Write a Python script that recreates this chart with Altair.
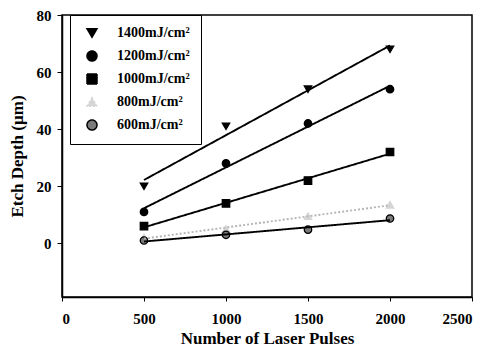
import altair as alt
import pandas as pd

pulses = [500, 1000, 1500, 2000]
fluences = ["1400mJ/cm²", "1200mJ/cm²", "1000mJ/cm²", "800mJ/cm²", "600mJ/cm²"]
depth_1400 = [20, 41, 54, 68]
depth_1200 = [11, 28, 42, 54]
depth_1000 = [6, 14, 22, 32]
depth_800 = [2, 5, 9.5, 13.5]
depth_600 = [1, 3, 4.8, 8.7]
x_ticks = [0, 500, 1000, 1500, 2000, 2500]
y_ticks = [0, 20, 40, 60, 80]

series = [depth_1400, depth_1200, depth_1000, depth_800, depth_600]
rows = []
for name, vals in zip(fluences, series):
    for p, d in zip(pulses, vals):
        rows.append({"fluence": name, "pulses": p, "depth": d})
df = pd.DataFrame(rows)

shapes = ["triangle-down", "circle", "square", "triangle-up", "circle"]
fills = ["#000000", "#000000", "#000000", "#d5d5d5", "#7a7a7a"]
strokes = ["#000000", "#000000", "#000000", "#d5d5d5", "#000000"]
line_colors = ["#000000", "#000000", "#000000", "#b5b5b5", "#000000"]
dashes = [[1, 0], [1, 0], [1, 0], [2, 2], [1, 0]]

FONT = "'Liberation Serif', 'Times New Roman', serif"

xs = alt.X("pulses:Q", scale=alt.Scale(domain=[0, 2500], nice=False),
           axis=alt.Axis(values=x_ticks, format="d", title="Number of Laser Pulses", grid=False,
                         labelFont=FONT, labelFontWeight="bold", labelFontSize=15,
                         titleFont=FONT, titleFontWeight="bold", titleFontSize=17,
                         tickSize=4, labelPadding=10, titlePadding=4,
                         domainColor="black", tickColor="black", labelColor="black",
                         titleColor="black", domainWidth=1.5))
ys = alt.Y("depth:Q", scale=alt.Scale(domain=[-18.8, 80], nice=False, zero=False),
           axis=alt.Axis(values=y_ticks, title="Etch Depth (µm)", grid=False,
                         labelFont=FONT, labelFontWeight="bold", labelFontSize=15,
                         titleFont=FONT, titleFontWeight="bold", titleFontSize=17,
                         tickSize=5, labelPadding=6, titlePadding=10,
                         domainColor="black", tickColor="black", labelColor="black",
                         titleColor="black", domainWidth=1.5))

base = alt.Chart(df)

lines = base.transform_regression(
    "pulses", "depth", groupby=["fluence"], extent=[500, 2000]
).mark_line(strokeWidth=1.9).encode(
    x=xs, y=ys,
    color=alt.Color("fluence:N", scale=alt.Scale(domain=fluences, range=line_colors), legend=None),
    strokeDash=alt.StrokeDash("fluence:N", scale=alt.Scale(domain=fluences, range=dashes), legend=None),
)

points = base.mark_point(size=55, filled=True, strokeWidth=1.3, opacity=1).encode(
    x=xs, y=ys,
    shape=alt.Shape("fluence:N", scale=alt.Scale(domain=fluences, range=shapes),
                    legend=alt.Legend(title=None, orient="none", legendX=8, legendY=0)),
    fill=alt.Fill("fluence:N", scale=alt.Scale(domain=fluences, range=fills)),
    stroke=alt.Stroke("fluence:N", scale=alt.Scale(domain=fluences, range=strokes)),
)

chart = alt.layer(points, lines).properties(
    width=410, height=282,
    padding={"left": 54, "top": 7, "right": 10, "bottom": 49},
    autosize=alt.AutoSizeParams(type="none"),
).configure_view(
    stroke="black", strokeWidth=1.5
).configure_legend(
    strokeColor="black", fillColor="white", padding=11,
    labelFont=FONT, labelFontWeight="bold", labelFontSize=14, labelColor="black",
    rowPadding=7, labelOffset=18, symbolOffset=4,
)

chart.save("out.html", embed_options={"renderer": "svg", "actions": False})
